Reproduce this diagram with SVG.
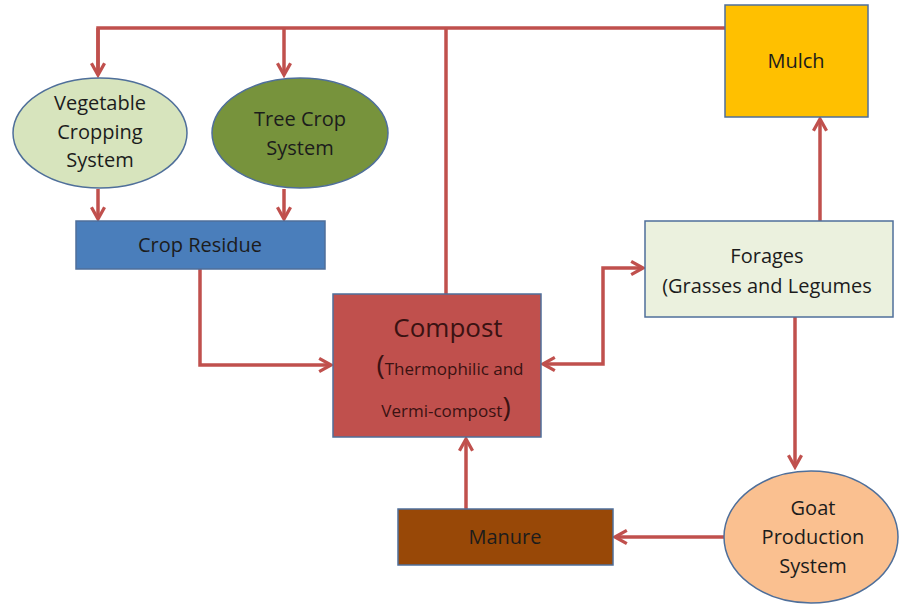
<svg xmlns="http://www.w3.org/2000/svg" width="900" height="605" viewBox="0 0 900 605">
<style>
.c{fill:none;stroke:#c0504d;stroke-width:3.5;stroke-linejoin:miter}
.a{marker-end:url(#ar)}
.n{stroke:#4f6f9a;stroke-width:1.5}
text{font-family:"Open Sans","Liberation Sans",sans-serif;font-size:20px;fill:#1c1c1c;text-anchor:middle}
.cp{fill:#3a1212}
</style>
<defs>
<marker id="ar" viewBox="0 0 12 12" refX="10" refY="6" markerWidth="4.5" markerHeight="4.5" markerUnits="strokeWidth" orient="auto-start-reverse">
<path d="M1,1 L10,6 L1,11" fill="none" stroke="#c0504d" stroke-width="2.5"/>
</marker>
</defs>
<rect width="900" height="605" fill="#ffffff"/>
<g id="connectors">
<polyline class="c" points="725,28 98,28 98,75"/>
<line class="c a" x1="98" y1="28" x2="98" y2="75"/>
<line class="c a" x1="284" y1="28" x2="284" y2="75"/>
<line class="c" x1="446" y1="28" x2="446" y2="294"/>
<line class="c a" x1="98" y1="189" x2="98" y2="219"/>
<line class="c a" x1="284" y1="189" x2="284" y2="219"/>
<polyline class="c a" points="200,269 200,365 331,365"/>
<polyline class="c a" style="marker-start:url(#ar)" points="543,364 603,364 603,268 643,268"/>
<line class="c a" x1="820" y1="221" x2="820" y2="119"/>
<line class="c a" x1="795" y1="317" x2="795" y2="467"/>
<line class="c a" x1="724" y1="537" x2="615" y2="537"/>
<line class="c a" x1="466" y1="509" x2="466" y2="439"/>
</g>
<g id="veg">
<ellipse class="n" cx="100" cy="133" rx="87" ry="55" fill="#d7e4bd"/>
<text x="100" y="110">Vegetable</text>
<text x="100" y="139">Cropping</text>
<text x="100" y="167">System</text>
</g>
<g id="tree">
<ellipse class="n" cx="300" cy="133" rx="88" ry="55" fill="#77933c"/>
<text x="300" y="126">Tree Crop</text>
<text x="300" y="155">System</text>
</g>
<g id="residue">
<rect class="n" x="76" y="221" width="249" height="48" fill="#4a7ebb"/>
<text x="200" y="252">Crop Residue</text>
</g>
<g id="compost">
<rect class="n" x="333" y="294" width="208" height="143" fill="#c0504d"/>
<text class="cp" x="448" y="337" style="font-size:26px">Compost</text>
<text class="cp" x="450" y="375" style="font-size:17px"><tspan style="font-size:28px">(</tspan>Thermophilic and</text>
<text class="cp" x="446" y="417" style="font-size:17px">Vermi-compost<tspan style="font-size:28px">)</tspan></text>
</g>
<g id="mulch">
<rect class="n" x="725" y="5" width="143" height="112" fill="#ffc000"/>
<text x="796" y="68">Mulch</text>
</g>
<g id="forages">
<rect class="n" x="645" y="221" width="248" height="96" fill="#ebf1de"/>
<text x="767" y="263">Forages</text>
<text x="767" y="293">(Grasses and Legumes</text>
</g>
<g id="goat">
<ellipse class="n" cx="811" cy="537" rx="87" ry="66" fill="#fac090"/>
<text x="813" y="515">Goat</text>
<text x="813" y="544">Production</text>
<text x="813" y="573">System</text>
</g>
<g id="manure">
<rect class="n" x="398" y="509" width="215" height="56" fill="#984807"/>
<text x="505" y="544">Manure</text>
</g>
</svg>
